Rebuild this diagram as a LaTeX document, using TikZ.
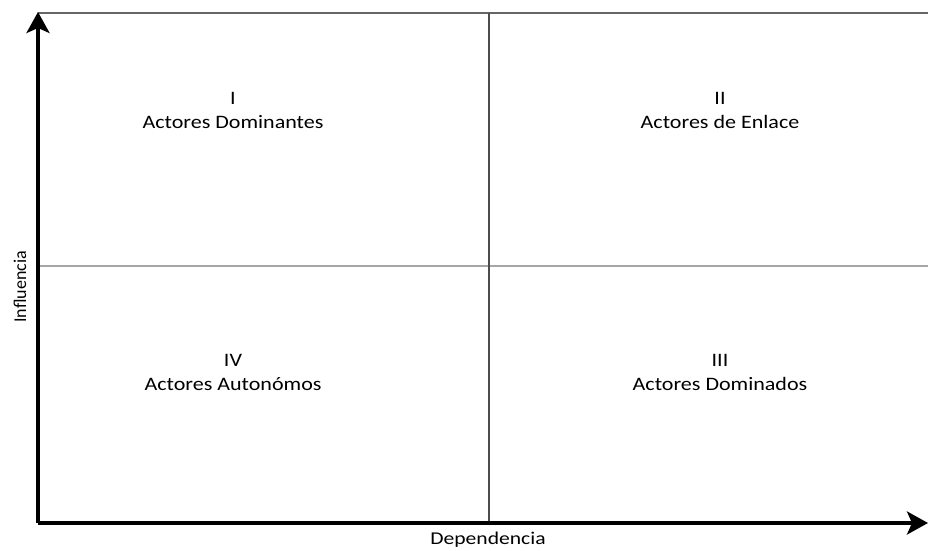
\documentclass[tikz,border=0pt]{standalone}
\usepackage{fontspec}
\setmainfont{Carlito}
\usepackage{tikz}
\usetikzlibrary{arrows.meta,positioning}

\begin{document}
\begin{tikzpicture}[
    x=1pt, y=1pt,
    axis/.style={line width=3.6pt, -{Stealth[length=21pt, width=23pt, inset=5pt]}},
    frameline/.style={line width=1.6pt, draw=black!60},
    midline/.style={line width=1.4pt, draw=black!70},
    crossline/.style={line width=1.3pt, draw=black!35},
    quad/.style={align=center, font=\fontsize{19}{24}\selectfont, inner sep=0pt,
        xscale=1.16, transform shape},
    axlabel/.style={font=\fontsize{18}{22}\selectfont, inner sep=0pt}
]
\useasboundingbox (0,0) rectangle (928,550);

% corners of the matrix
\coordinate (origin) at (38,27);
\coordinate (ytip) at (38,538);
\coordinate (xtip) at (928,27);
\coordinate (topleft) at (38,537);
\coordinate (topright) at (928,537);
\coordinate (midtop) at (489,537);
\coordinate (midbottom) at (489,27);
\coordinate (midleft) at (38,284);
\coordinate (midright) at (928,284);

\draw[frameline] (topleft) -- (topright);
\draw[crossline] (midleft) -- (midright);
\draw[midline] (midtop) -- (midbottom);
\draw[axis] (origin) -- (ytip);
\draw[axis] (origin) -- (xtip);

% quadrants
\node[quad] (dominantes) at (233,440) {I\\Actores Dominantes};
\node[quad] (enlace) at (720,440) {II\\Actores de Enlace};
\node[quad] (dominados) at (720,178) {III\\Actores Dominados};
\node[quad] (autonomos) at (233,178) {IV\\Actores Autonómos};

% axis labels
\node[axlabel, xscale=1.2, transform shape] (dependencia) at (488,10) {Dependencia};
\node[axlabel, rotate=90] (influencia) at (20,263) {Influencia};
\end{tikzpicture}
\end{document}
